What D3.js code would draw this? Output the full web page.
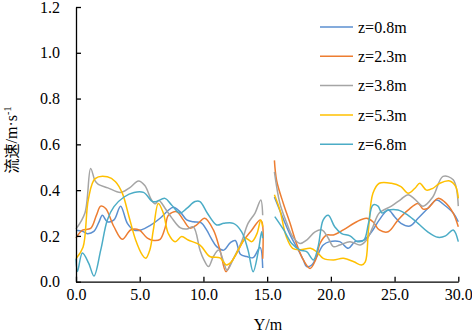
<!DOCTYPE html>
<html><head><meta charset="utf-8">
<script src="https://cdn.jsdelivr.net/npm/d3@7/dist/d3.min.js"></script>
<style>body{margin:0;background:#fff}svg{display:block}</style>
</head><body><svg id="c" width="472" height="333"></svg>
<script>
const seriesNames = ["z=0.8m","z=2.3m","z=3.8m","z=5.3m","z=6.8m"];
const seriesColors = ["#5B8FD0","#ED7D31","#A5A5A5","#FFC000","#4BACC6"];
const xTicks = [0,5,10,15,20,25,30];
const yTicks = [0,0.2,0.4,0.6,0.8,1.0,1.2];

// each series: left segment, null (gap), right segment
const z08 = [[0,0.225],[0.5,0.22],[0.9,0.21],[1.4,0.22],[1.8,0.26],[2.07,0.29],[2.46,0.262],[2.98,0.27],[3.5,0.33],[4.03,0.255],[4.55,0.226],[5.1,0.226],[5.8,0.245],[6.6,0.277],[7.2,0.31],[7.64,0.325],[8.16,0.306],[8.69,0.27],[9.2,0.262],[9.8,0.258],[10.26,0.225],[10.6,0.19],[11.04,0.153],[11.6,0.138],[12.1,0.17],[12.5,0.18],[12.9,0.12],[13.4,0.11],[13.9,0.105],[14.44,0.15],[14.65,0.06],
  null,
  [15.57,0.37],[16.3,0.27],[16.93,0.19],[17.45,0.138],[17.84,0.095],[18.1,0.066],[18.5,0.073],[18.9,0.11],[19.4,0.16],[19.9,0.175],[20.7,0.175],[21.37,0.146],[21.9,0.175],[22.6,0.182],[23.3,0.226],[23.8,0.27],[24.5,0.313],[25.0,0.284],[25.5,0.255],[26.2,0.243],[26.84,0.277],[27.6,0.32],[28.3,0.357],[28.9,0.335],[29.6,0.3],[30,0.262]];
const z23 = [[0,0.19],[0.5,0.225],[1.15,0.233],[1.6,0.29],[1.94,0.33],[2.33,0.32],[2.98,0.24],[3.64,0.185],[4.29,0.226],[4.95,0.226],[5.6,0.19],[6.1,0.18],[6.6,0.185],[6.98,0.233],[7.25,0.29],[7.9,0.306],[8.42,0.27],[8.95,0.234],[9.47,0.248],[10.1,0.277],[10.78,0.226],[11.3,0.138],[11.77,0.044],[12.2,0.087],[12.6,0.124],[13.1,0.175],[13.8,0.226],[14.44,0.27],[14.6,0.26],[14.65,0.10],
  null,
  [15.57,0.53],[15.75,0.44],[16.27,0.342],[16.8,0.255],[17.3,0.167],[17.84,0.095],[18.37,0.058],[18.8,0.095],[19.15,0.167],[19.67,0.204],[20.2,0.204],[20.98,0.226],[22.03,0.262],[22.8,0.277],[23.3,0.262],[23.8,0.226],[24.5,0.218],[25.27,0.27],[26.06,0.313],[26.84,0.342],[27.24,0.317],[27.6,0.32],[28.4,0.364],[28.9,0.35],[29.6,0.3],[30,0.24]];
const z38 = [[0,0.23],[0.7,0.3],[1.15,0.495],[1.5,0.44],[1.75,0.425],[2.5,0.41],[3.5,0.39],[4.2,0.41],[4.9,0.44],[5.4,0.42],[5.9,0.36],[6.2,0.34],[6.5,0.355],[7.0,0.32],[7.5,0.28],[8.2,0.235],[8.7,0.23],[9.2,0.24],[9.73,0.138],[10.0,0.10],[10.4,0.066],[10.78,0.11],[11.2,0.138],[11.6,0.084],[11.85,0.05],[12.35,0.10],[13.0,0.175],[13.5,0.255],[14.05,0.3],[14.5,0.357],[14.65,0.29],
  null,
  [15.57,0.48],[16.0,0.342],[16.5,0.262],[17.0,0.197],[17.58,0.167],[18.1,0.182],[18.76,0.218],[19.3,0.226],[19.8,0.19],[20.2,0.153],[20.7,0.16],[21.5,0.175],[22.3,0.16],[22.8,0.182],[23.3,0.24],[23.8,0.3],[24.75,0.33],[25.5,0.36],[26.06,0.38],[26.6,0.36],[27.24,0.33],[28.0,0.37],[28.8,0.46],[29.6,0.445],[30,0.33]];
const z53 = [[0,0.10],[0.55,0.15],[0.97,0.36],[1.5,0.45],[2.46,0.458],[3.1,0.437],[3.64,0.386],[4.16,0.284],[4.68,0.182],[5.2,0.117],[5.47,0.102],[5.8,0.14],[6.07,0.226],[6.46,0.342],[6.85,0.30],[7.25,0.21],[7.77,0.175],[8.3,0.197],[8.8,0.182],[9.73,0.16],[10.5,0.11],[11.3,0.104],[11.8,0.073],[12.2,0.087],[12.87,0.153],[13.3,0.19],[13.8,0.175],[14.2,0.21],[14.5,0.27],[14.65,0.24],
  null,
  [15.57,0.38],[16.0,0.313],[16.5,0.197],[17.0,0.146],[17.6,0.14],[18.4,0.146],[18.9,0.13],[19.4,0.102],[20.2,0.095],[20.98,0.102],[21.8,0.087],[22.4,0.073],[22.7,0.087],[22.95,0.226],[23.3,0.386],[23.8,0.43],[24.75,0.43],[25.5,0.415],[26.06,0.386],[26.6,0.408],[26.98,0.43],[27.5,0.40],[28.0,0.408],[28.55,0.43],[29.33,0.44],[29.8,0.415],[30,0.364]];
const z68 = [[0,0.1],[0.12,0.045],[0.5,0.125],[1.0,0.08],[1.41,0.025],[1.94,0.138],[2.46,0.27],[2.98,0.328],[3.77,0.37],[4.55,0.39],[5.3,0.39],[6.0,0.35],[6.3,0.35],[6.98,0.364],[7.5,0.335],[8.16,0.30],[8.69,0.32],[9.34,0.35],[9.73,0.35],[10.3,0.3],[11.04,0.248],[11.6,0.255],[12.35,0.255],[13.0,0.218],[13.5,0.138],[13.9,0.044],[14.3,0.131],[14.57,0.218],[14.65,0.19],
  null,
  [15.6,0.284],[16.3,0.226],[16.93,0.167],[17.6,0.138],[18.1,0.131],[18.63,0.095],[19.0,0.153],[19.4,0.27],[19.8,0.29],[20.3,0.24],[20.85,0.21],[21.5,0.2],[22.1,0.175],[22.6,0.182],[22.95,0.255],[23.3,0.335],[23.7,0.33],[24.0,0.3],[24.5,0.313],[25.27,0.313],[26.06,0.29],[26.84,0.255],[27.6,0.218],[28.4,0.194],[29.0,0.2],[29.6,0.226],[30,0.175]];
const seriesData = [z08, z23, z38, z53, z68];

const SERIF = '"Liberation Serif"';
const CJK = '"Noto Sans CJK SC"';
const svg = d3.select("#c");
const L = 76, R = 458.3, T = 7, B = 281.7;
const x = d3.scaleLinear().domain([0,30]).range([L,R]);
const y = d3.scaleLinear().domain([0,1.2]).range([B,T]);

// series
const line = d3.line().defined(d => d !== null).x(d => x(d[0])).y(d => y(d[1])).curve(d3.curveCatmullRom.alpha(0.5));
seriesData.forEach((s,i) => {
  svg.append("path").attr("d", line(s)).attr("fill","none")
    .attr("stroke", seriesColors[i]).attr("stroke-width",1.5);
});

// axes
const xAxis = d3.axisBottom(x).tickValues(xTicks).tickSizeInner(-5).tickSizeOuter(0).tickPadding(7).tickFormat(d3.format(".1f"));
const gx = svg.append("g").attr("transform",`translate(0,${B})`).call(xAxis);
const yAxis = d3.axisLeft(y).tickValues(yTicks).tickSizeInner(-5).tickSizeOuter(0).tickPadding(16).tickFormat(d3.format(".1f"));
const gy = svg.append("g").attr("transform",`translate(${L},0)`).call(yAxis);
[gx,gy].forEach(g => {
  g.select(".domain").attr("stroke","#000").attr("stroke-width",1.3);
  g.selectAll(".tick line").attr("stroke","#000").attr("stroke-width",1.3);
  g.selectAll(".tick text").style("font-family",SERIF).style("font-size","16px").attr("fill","#000");
});

// axis titles
svg.append("text").attr("x",268).attr("y",330).attr("text-anchor","middle")
  .style("font-family",SERIF).style("font-size","16px").text("Y/m");
const yl = svg.append("text").attr("transform","translate(17,140) rotate(-90)").attr("text-anchor","middle")
  .style("font-family",SERIF).style("font-size","16px");
yl.append("tspan").style("font-family",CJK).style("font-size","15px").text("流速");
yl.append("tspan").text("/m·s");
yl.append("tspan").style("font-size","10px").attr("dy",-6).text("-1");

// legend
const ly0 = 27, lstep = 29.3;
seriesNames.forEach((n,i) => {
  const yy = ly0 + i*lstep;
  svg.append("line").attr("x1",320).attr("x2",353).attr("y1",yy).attr("y2",yy)
    .attr("stroke",seriesColors[i]).attr("stroke-width",1.5);
  svg.append("text").attr("x",358).attr("y",yy).attr("dy","0.35em")
    .style("font-family",SERIF).style("font-size","16px").text(n);
});
</script></body></html>
